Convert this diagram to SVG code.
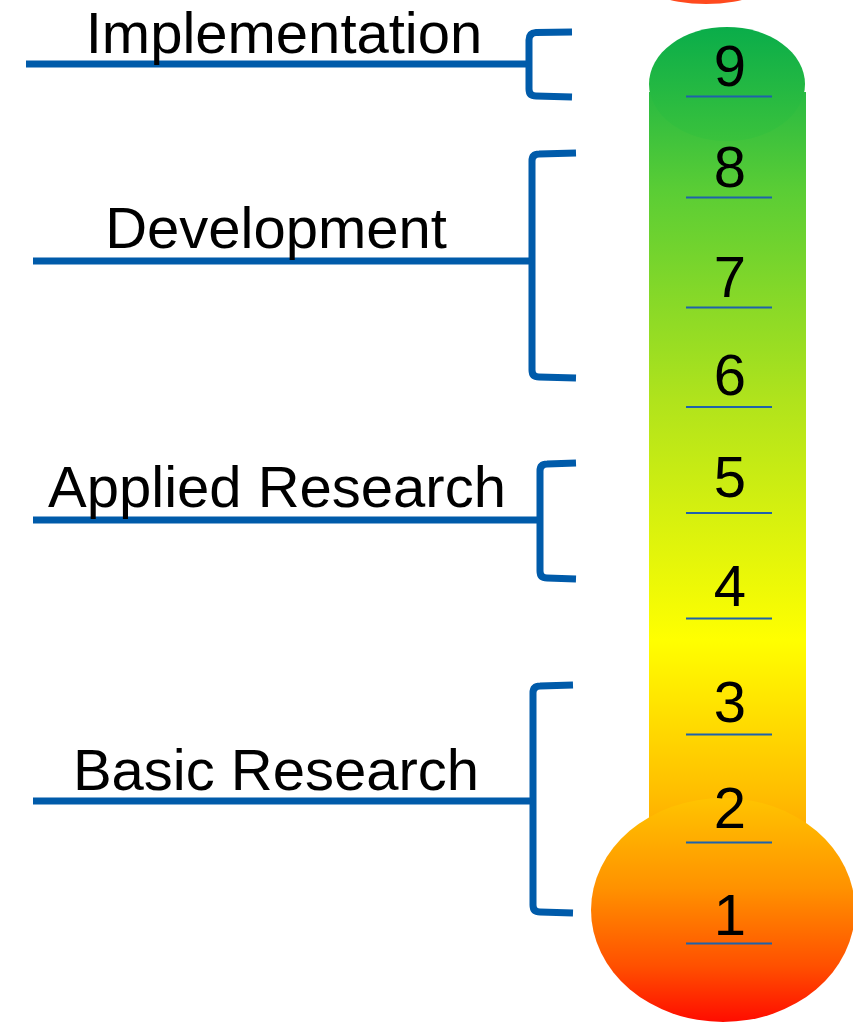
<svg xmlns="http://www.w3.org/2000/svg" width="853" height="1022" viewBox="0 0 853 1022">
<defs>
<style>
.lbl{font-family:"Liberation Sans",Arial,sans-serif;font-size:58px;fill:#000;text-anchor:middle}
.num{font-family:"Liberation Sans",Arial,sans-serif;font-size:58px;fill:#000;text-anchor:middle}
.con{fill:none;stroke:#005BAA;stroke-width:7}
.tick{stroke:#1F62AA;stroke-width:2}
</style>
<linearGradient id="tube" gradientUnits="userSpaceOnUse" x1="0" y1="27" x2="0" y2="1022">
<stop offset="0" stop-color="#08AD4B"/>
<stop offset="0.164" stop-color="#5ACD35"/>
<stop offset="0.375" stop-color="#B0E31C"/>
<stop offset="0.616" stop-color="#FFFF00"/>
<stop offset="0.777" stop-color="#FFBB00"/>
<stop offset="0.877" stop-color="#FF8400"/>
<stop offset="1" stop-color="#FF1000"/>
</linearGradient>
<linearGradient id="cap" x1="0" y1="0" x2="0" y2="1">
<stop offset="0" stop-color="#0AAD4A"/>
<stop offset="1" stop-color="#3AC23C"/>
</linearGradient>
<linearGradient id="bulb" x1="0" y1="0" x2="0" y2="1">
<stop offset="0" stop-color="#FFC400"/>
<stop offset="0.4" stop-color="#FF9200"/>
<stop offset="0.75" stop-color="#FF5000"/>
<stop offset="1" stop-color="#FF0C00"/>
</linearGradient>
</defs>
<rect width="853" height="1022" fill="#fff"/>
<ellipse cx="706" cy="-26" rx="72" ry="30" fill="#FF4A1E"/>
<g id="thermometer">
<rect x="649" y="92" width="157" height="740" fill="url(#tube)"/>
<ellipse cx="727" cy="84" rx="78" ry="57" fill="url(#cap)"/>
<ellipse cx="723" cy="910" rx="132" ry="112" fill="url(#bulb)"/>
</g>
<g id="ticks">
<line class="tick" x1="686" y1="96.5" x2="772" y2="96.5"/>
<line class="tick" x1="686" y1="197.5" x2="772" y2="197.5"/>
<line class="tick" x1="686" y1="307.5" x2="772" y2="307.5"/>
<line class="tick" x1="686" y1="407" x2="772" y2="407"/>
<line class="tick" x1="686" y1="513" x2="772" y2="513"/>
<line class="tick" x1="686" y1="618.5" x2="772" y2="618.5"/>
<line class="tick" x1="686" y1="734.5" x2="772" y2="734.5"/>
<line class="tick" x1="686" y1="842.5" x2="772" y2="842.5"/>
<line class="tick" x1="686" y1="943.5" x2="772" y2="943.5"/>
</g>
<g id="numbers">
<text class="num" x="730" y="86">9</text>
<text class="num" x="730" y="187">8</text>
<text class="num" x="730" y="297">7</text>
<text class="num" x="730" y="395">6</text>
<text class="num" x="730" y="497">5</text>
<text class="num" x="730" y="606">4</text>
<text class="num" x="730" y="722">3</text>
<text class="num" x="730" y="828">2</text>
<text class="num" x="730" y="935">1</text>
</g>
<g id="connectors">
<path class="con" d="M26,64 H529"/>
<path class="con" d="M572,32 L536,32.5 Q529,33 529,40 V89 Q529,96 536,96 L572,97"/>
<path class="con" d="M33,261 H532"/>
<path class="con" d="M576,153 L539,154 Q532,154 532,161 V370 Q532,377 539,377 L576,378"/>
<path class="con" d="M33,520 H540"/>
<path class="con" d="M576,463 L547,464 Q540,464 540,471 V571 Q540,578 547,578 L576,579"/>
<path class="con" d="M33,801 H533"/>
<path class="con" d="M573,685 L540,686 Q533,686 533,693 V905 Q533,912 540,912 L573,913"/>
</g>
<g id="implementation"><text class="lbl" x="284" y="53">Implementation</text></g>
<g id="development"><text class="lbl" x="276" y="248">Development</text></g>
<g id="applied-research"><text class="lbl" x="277" y="507">Applied Research</text></g>
<g id="basic-research"><text class="lbl" x="276" y="790">Basic Research</text></g>
</svg>
